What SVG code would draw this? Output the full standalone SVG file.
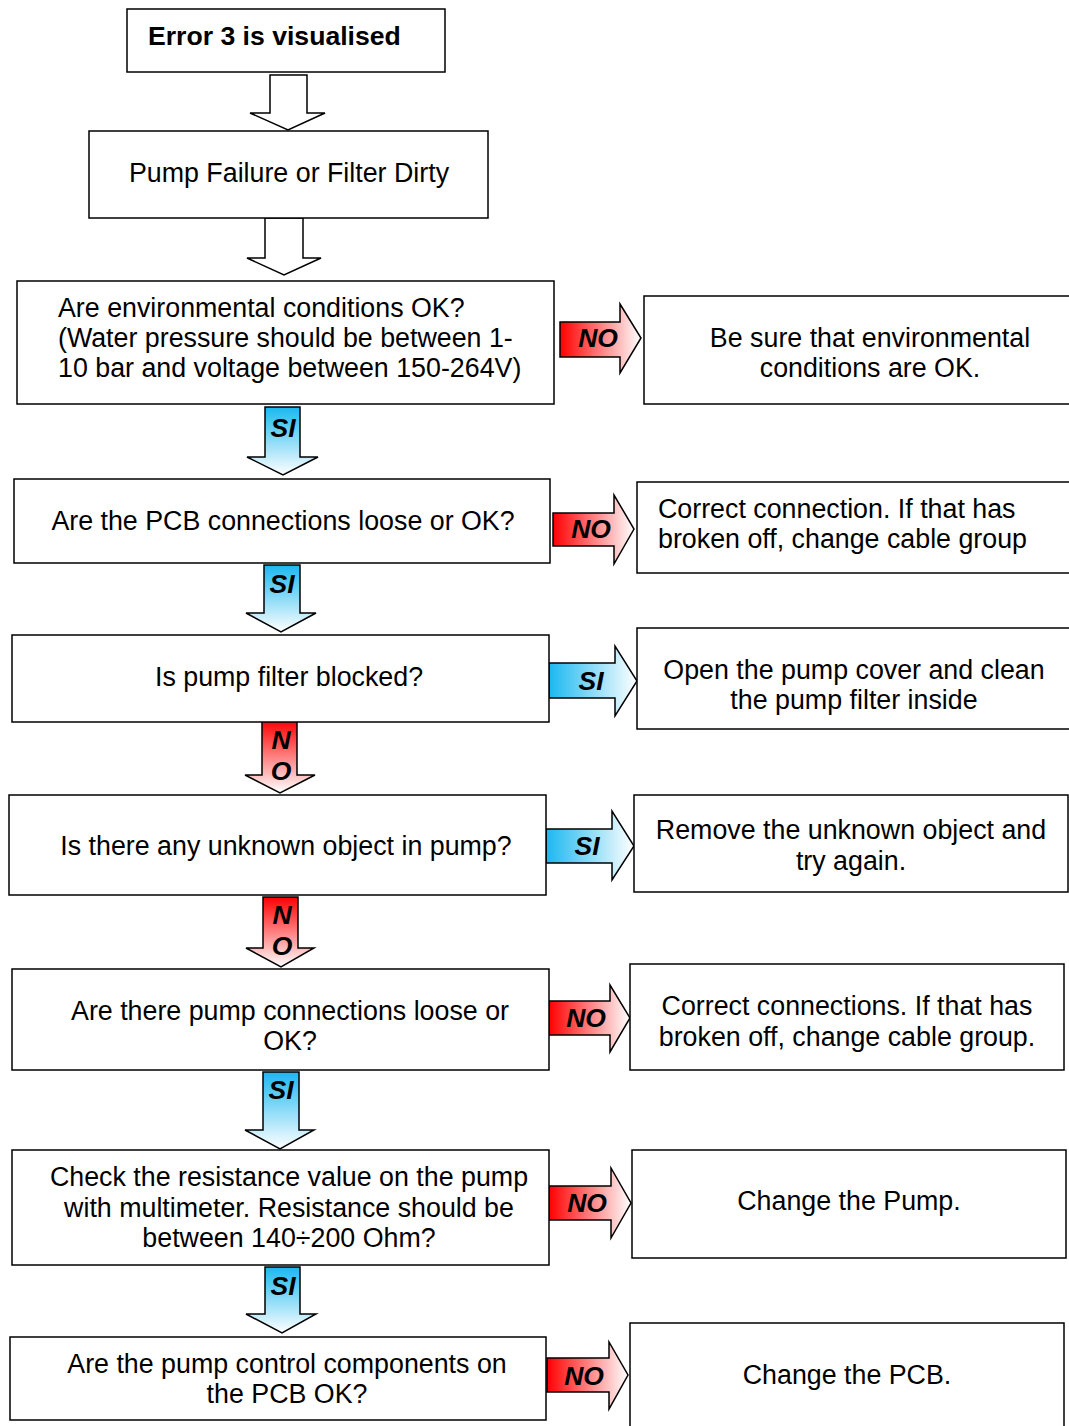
<svg xmlns="http://www.w3.org/2000/svg" width="1069" height="1426" viewBox="0 0 1069 1426">
<defs>
<linearGradient id="redH" x1="0" y1="0" x2="1" y2="0"><stop offset="0" stop-color="#ff0000"/><stop offset="1" stop-color="#ffffff"/></linearGradient>
<linearGradient id="blueH" x1="0" y1="0" x2="1" y2="0"><stop offset="0" stop-color="#1ab8f0"/><stop offset="1" stop-color="#ffffff"/></linearGradient>
<linearGradient id="redV" x1="0" y1="0" x2="0" y2="1"><stop offset="0" stop-color="#ff0000"/><stop offset="1" stop-color="#ffffff"/></linearGradient>
<linearGradient id="blueV" x1="0" y1="0" x2="0" y2="1"><stop offset="0" stop-color="#1ab8f0"/><stop offset="1" stop-color="#ffffff"/></linearGradient>
</defs>
<style>
.box{fill:#fff;stroke:#000;stroke-width:1.5}
.t{font-family:"Liberation Sans",Arial,sans-serif;font-size:26.8px;fill:#000}
.c{text-anchor:middle}
.b{font-weight:bold;font-size:26.6px}
.lab{font-family:"Liberation Sans",Arial,sans-serif;font-size:26.5px;font-weight:bold;font-style:italic;fill:#000;text-anchor:middle}
.arr{stroke:#000;stroke-width:1.5;stroke-linejoin:miter}
.plain{fill:#fff}
.rH{fill:url(#redH)}
.bH{fill:url(#blueH)}
.rV{fill:url(#redV)}
.bV{fill:url(#blueV)}
</style>
<rect width="1069" height="1426" fill="#fff"/>

<g id="connectors">
<path class="arr plain" d="M270,75 H307 V113 H325 L288,130 L250,113 H270 Z"/>
<path class="arr plain" d="M265,218 H303 V258 H321 L284,275 L247,258 H265 Z"/>

<g id="c-env-no"><path class="arr rH" d="M560,322 H620 V304 L641,338 L620,373 V357 H560 Z"/><text class="lab" x="598" y="347">NO</text></g>
<g id="c-env-si"><path class="arr bV" d="M265,407 H300 V457 H318 L283,475 L247,457 H265 Z"/><text class="lab" x="283" y="437">SI</text></g>
<g id="c-pcb-no"><path class="arr rH" d="M553,513 H614 V495 L634,529 L614,564 V546 H553 Z"/><text class="lab" x="591" y="538">NO</text></g>
<g id="c-pcb-si"><path class="arr bV" d="M264,565 H300 V613 H316 L281,632 L246,613 H264 Z"/><text class="lab" x="282" y="593">SI</text></g>
<g id="c-filter-si"><path class="arr bH" d="M549,663 H615 V646 L637,681 L615,716 V698 H549 Z"/><text class="lab" x="591" y="690">SI</text></g>
<g id="c-filter-no"><path class="arr rV" d="M262,720 H297 V775 H315 L280,793 L245,775 H262 Z"/><text class="lab" x="281" y="749">N</text><text class="lab" x="281" y="780">O</text></g>
<g id="c-object-si"><path class="arr bH" d="M546,829 H612 V811 L634,846 L612,880 V863 H546 Z"/><text class="lab" x="587" y="855">SI</text></g>
<g id="c-object-no"><path class="arr rV" d="M263,897 H298 V948 H314 L281,967 L246,948 H263 Z"/><text class="lab" x="282" y="924">N</text><text class="lab" x="282" y="955">O</text></g>
<g id="c-pumpconn-no"><path class="arr rH" d="M549,1001 H610 V985 L630,1018 L610,1052 V1035 H549 Z"/><text class="lab" x="586" y="1027">NO</text></g>
<g id="c-pumpconn-si"><path class="arr bV" d="M263,1072 H299 V1130 H314 L280,1149 L245,1130 H263 Z"/><text class="lab" x="281" y="1099">SI</text></g>
<g id="c-resist-no"><path class="arr rH" d="M549,1186 H611 V1168 L631,1203 L611,1238 V1220 H549 Z"/><text class="lab" x="587" y="1212">NO</text></g>
<g id="c-resist-si"><path class="arr bV" d="M265,1267 H300 V1314 H316 L282,1333 L246,1314 H265 Z"/><text class="lab" x="283" y="1295">SI</text></g>
<g id="c-control-no"><path class="arr rH" d="M547,1358 H609 V1342 L628,1375 L609,1409 V1392 H547 Z"/><text class="lab" x="584" y="1385">NO</text></g>
</g>

<g id="n-error"><rect class="box" x="127" y="9" width="318" height="63"/><text class="t b" x="148" y="45">Error 3 is visualised</text></g>
<g id="n-pump"><rect class="box" x="89" y="131" width="399" height="87"/><text class="t c" x="289" y="182">Pump Failure or Filter Dirty</text></g>

<g id="n-env"><rect class="box" x="17" y="281" width="537" height="123"/>
<text class="t" x="58" y="317">Are environmental conditions OK?</text>
<text class="t" x="58" y="347">(Water pressure should be between 1-</text>
<text class="t" x="58" y="377">10 bar and voltage between 150-264V)</text></g>
<g id="n-env-fix"><rect class="box" x="644" y="296" width="440" height="108"/>
<text class="t c" x="870" y="347">Be sure that environmental</text>
<text class="t c" x="870" y="377">conditions are OK.</text></g>

<g id="n-pcb"><rect class="box" x="14" y="479" width="536" height="84"/><text class="t c" x="283" y="530">Are the PCB connections loose or OK?</text></g>
<g id="n-pcb-fix"><rect class="box" x="637" y="482" width="447" height="91"/>
<text class="t" x="658" y="518">Correct connection. If that has</text>
<text class="t" x="658" y="548">broken off, change cable group</text></g>

<g id="n-filter"><rect class="box" x="12" y="635" width="537" height="87"/><text class="t c" x="289" y="686">Is pump filter blocked?</text></g>
<g id="n-filter-fix"><rect class="box" x="637" y="628" width="447" height="101"/>
<text class="t c" x="854" y="679">Open the pump cover and clean</text>
<text class="t c" x="854" y="709">the pump filter inside</text></g>

<g id="n-object"><rect class="box" x="9" y="795" width="537" height="100"/><text class="t c" x="286" y="855">Is there any unknown object in pump?</text></g>
<g id="n-object-fix"><rect class="box" x="634" y="795" width="434" height="97"/>
<text class="t c" x="851" y="839">Remove the unknown object and</text>
<text class="t c" x="851" y="870">try again.</text></g>

<g id="n-pumpconn"><rect class="box" x="12" y="969" width="537" height="101"/>
<text class="t c" x="290" y="1020">Are there pump connections loose or</text>
<text class="t c" x="290" y="1050">OK?</text></g>
<g id="n-pumpconn-fix"><rect class="box" x="630" y="964" width="434" height="106"/>
<text class="t c" x="847" y="1015">Correct connections. If that has</text>
<text class="t c" x="847" y="1046">broken off, change cable group.</text></g>

<g id="n-resist"><rect class="box" x="12" y="1150" width="537" height="115"/>
<text class="t c" x="289" y="1186">Check the resistance value on the pump</text>
<text class="t c" x="289" y="1217">with multimeter. Resistance should be</text>
<text class="t c" x="289" y="1247">between 140÷200 Ohm?</text></g>
<g id="n-resist-fix"><rect class="box" x="632" y="1150" width="434" height="108"/>
<text class="t c" x="849" y="1210">Change the Pump.</text></g>

<g id="n-control"><rect class="box" x="10" y="1337" width="536" height="83"/>
<text class="t c" x="287" y="1373">Are the pump control components on</text>
<text class="t c" x="287" y="1403">the PCB OK?</text></g>
<g id="n-control-fix"><rect class="box" x="630" y="1323" width="434" height="120"/>
<text class="t c" x="847" y="1384">Change the PCB.</text></g>
</svg>
